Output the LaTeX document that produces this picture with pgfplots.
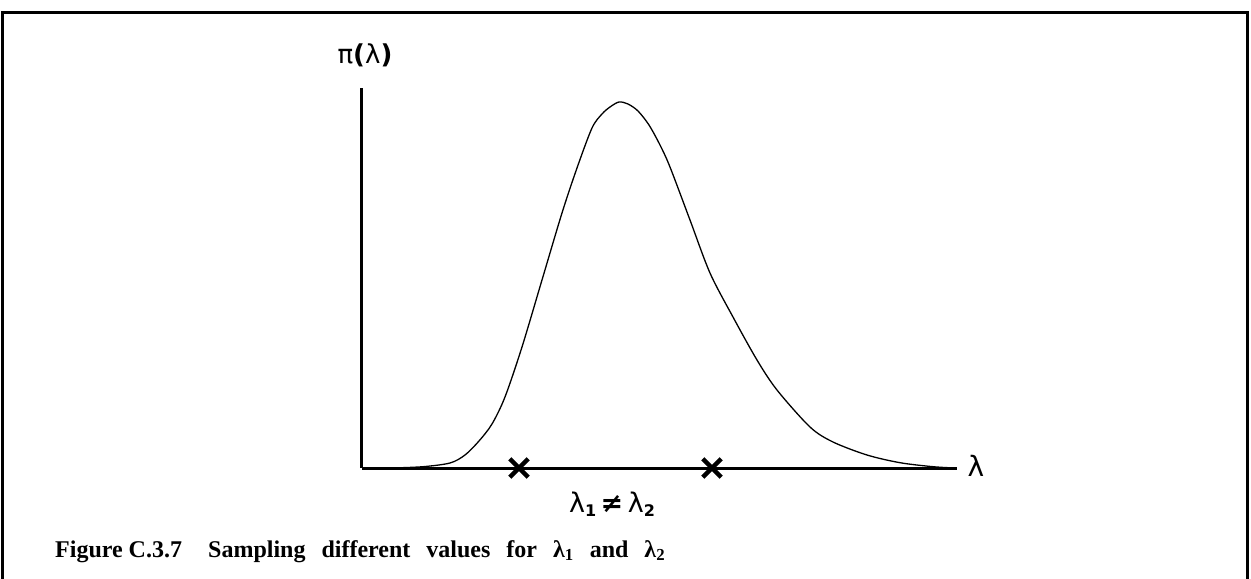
\documentclass[border=0pt]{standalone}
\usepackage{fontspec}
\setmainfont{Liberation Serif}
\newfontfamily\dvs{DejaVu Sans}
\usepackage{pgfplots}
\pgfplotsset{compat=1.18}
\tikzset{capword/.style={anchor=base west, inner sep=0pt,
    font=\fontsize{24bp}{28bp}\selectfont\bfseries}}

\begin{document}
\begin{tikzpicture}
% page extent, one unit = 1bp, origin at the axis corner
\useasboundingbox (-362bp,-111bp) rectangle (889bp,468bp);
\begin{axis}[
  at={(0,0)}, anchor=origin,
  x=1bp, y=1bp,
  xmin=0, xmax=595, ymin=0, ymax=380,
  axis lines=left,
  axis line style={-, line width=3bp},
  ticks=none,
  clip=false,
]
% posterior density of lambda
\addplot[black, line width=1.3bp, smooth, tension=0.5] coordinates {
  (30,0) (61,1.3) (88,5) (103,13) (117,27) (130,44) (143,71) (160,121)
  (180,188) (200,255) (215,300) (230,340) (240,354) (248,361) (257,366)
  (266,364) (276,357) (287,343) (298,323) (308,301) (328,248) (348,195)
  (371,151) (395,108) (415,78) (448,41) (471,26) (505,13) (538,5.3)
  (571,1.3) (593,0)
};
% the two sampled values
\addplot[only marks, mark=x, mark size=13bp, line width=4.5bp, black]
  coordinates {(157,0) (350,0)};

\node[font=\dvs\fontsize{26bp}{30bp}\selectfont] at (axis cs:3,413) {π\textbf{(}λ\textbf{)}};
\node[font=\dvs\fontsize{28bp}{32bp}\selectfont] at (axis cs:614,2) {λ};
\node[font=\dvs\fontsize{27bp}{30bp}\selectfont] at (axis cs:250,-36)
  {λ\raisebox{-0.3ex}{\fontsize{16bp}{18bp}\selectfont\bfseries 1}\,\textbf{≠}\,λ\raisebox{-0.3ex}{\fontsize{16bp}{18bp}\selectfont\bfseries 2}};

% caption, justified to its line width
\node[capword] at (axis cs:-307,-89) {Figure C.3.7};
\node[capword] at (axis cs:-154,-89)
  {\makebox[457bp][s]{Sampling different values for λ\textsubscript{1} and λ\textsubscript{2}}};

% open frame
\draw[line width=3bp] (axis cs:-359,-111) -- (axis cs:-359,456)
  -- (axis cs:885.5,456) -- (axis cs:885.5,-111);
\end{axis}
\end{tikzpicture}
\end{document}
